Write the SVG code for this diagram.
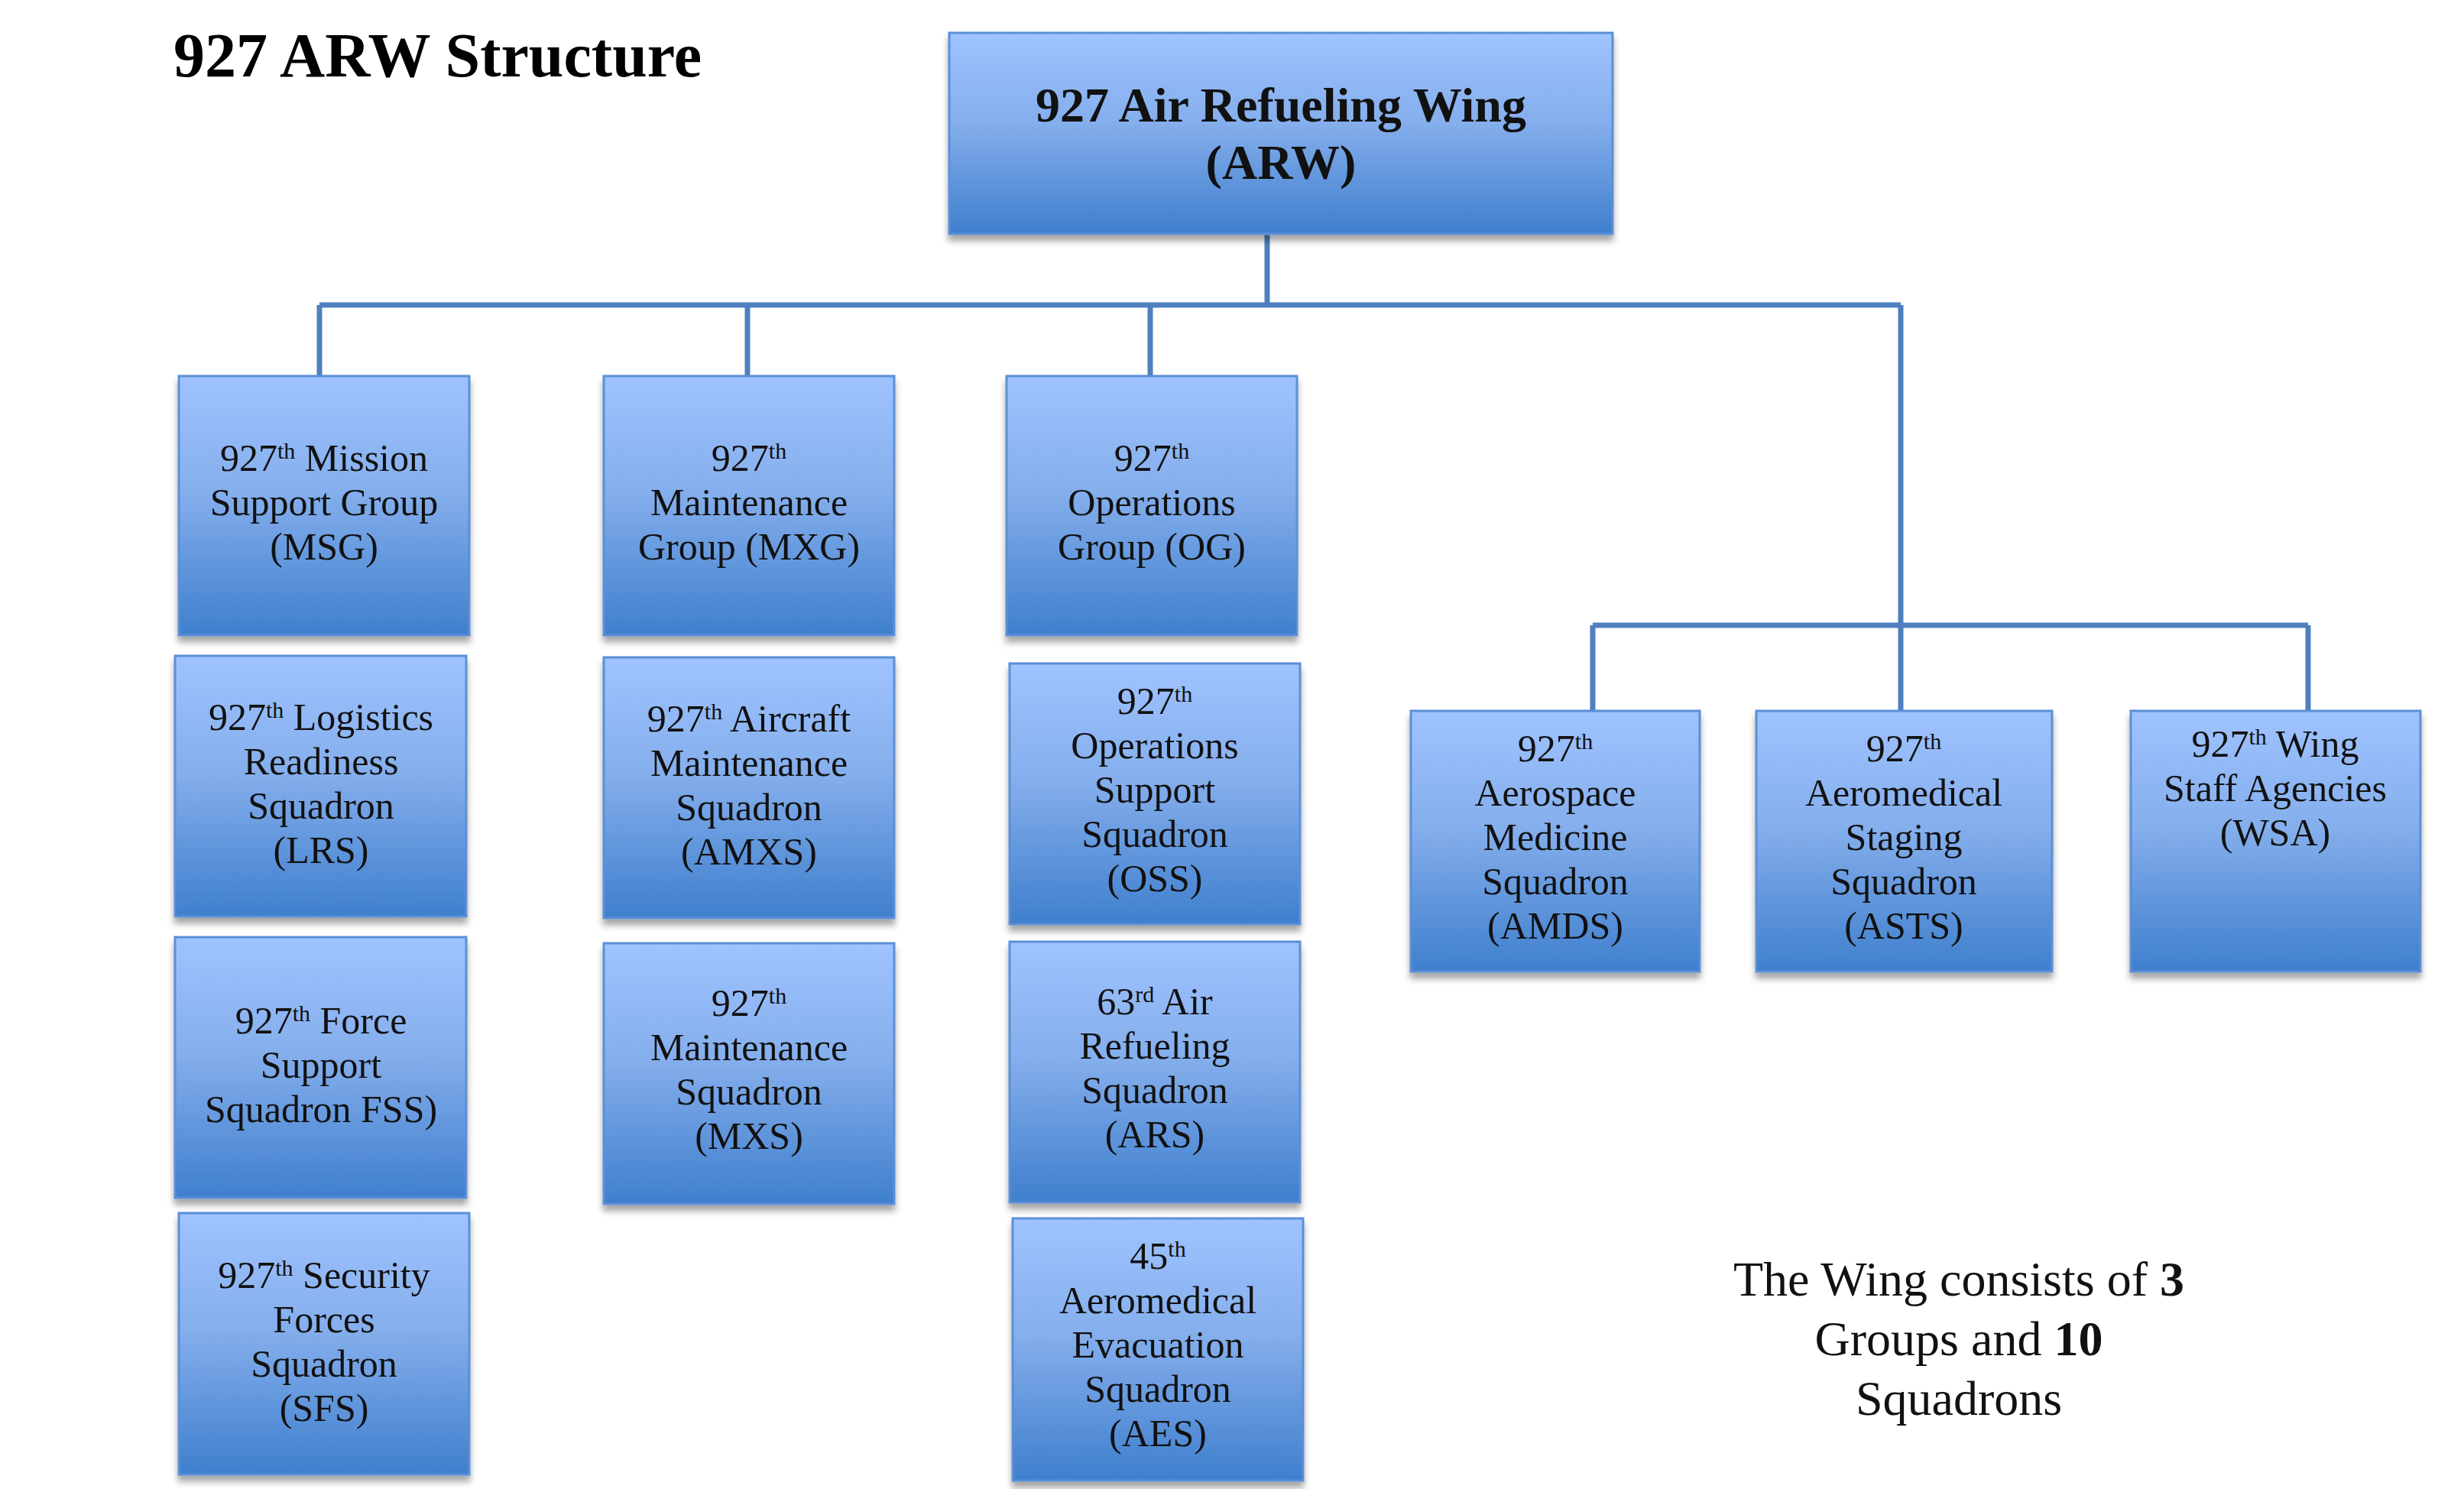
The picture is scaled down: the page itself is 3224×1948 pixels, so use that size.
<svg xmlns="http://www.w3.org/2000/svg" width="3224" height="1948" viewBox="0 0 3224 1948">
<defs>
<linearGradient id="g" x1="0" y1="0" x2="0" y2="1">
<stop offset="0" stop-color="#9fc3ff"/><stop offset="0.45" stop-color="#84aeec"/><stop offset="1" stop-color="#3f7fcd"/>
</linearGradient>
<filter id="sh" x="-5%" y="-5%" width="110%" height="115%"><feDropShadow dx="0" dy="8" stdDeviation="4" flood-color="#000" flood-opacity="0.35"/></filter>
</defs>
<style>
.b{fill:url(#g);stroke:#5b8fd6;stroke-width:3;filter:url(#sh)}
.t{font-family:"Liberation Serif",serif;font-size:50px;fill:#111;text-anchor:middle}
.s{font-size:30px;baseline-shift:super}
.c{fill:none;stroke:#4f7fbf;stroke-width:7}
</style>
<rect width="3224" height="1948" fill="#fff"/>
<text x="227" y="100" style="font-family:'Liberation Serif',serif;font-weight:bold;font-size:82px;fill:#000">927 ARW Structure</text>
<g id="connectors">
<path class="c" d="M1658 306V399M418 399H2487M418 399V492M978 399V492M1505 399V492M2487 399V930M2084 818H3020M2084 818V930M3020 818V930"/>
</g>
<g id="arw"><rect class="b" x="1242" y="43" width="868" height="263"/>
<text class="t" x="1676" y="159" style="font-weight:bold;font-size:64px">927 Air Refueling Wing</text>
<text class="t" x="1676" y="234" style="font-weight:bold;font-size:64px">(ARW)</text></g>
<g id="msg"><rect class="b" x="234" y="492" width="380" height="339"/>
<text class="t" x="424" y="616">927<tspan class="s">th</tspan> Mission<tspan x="424" dy="58">Support Group</tspan><tspan x="424" dy="58">(MSG)</tspan></text></g>
<g id="mxg"><rect class="b" x="790" y="492" width="380" height="339"/>
<text class="t" x="980" y="616">927<tspan class="s">th</tspan><tspan x="980" dy="58">Maintenance</tspan><tspan x="980" dy="58">Group (MXG)</tspan></text></g>
<g id="og"><rect class="b" x="1317" y="492" width="380" height="339"/>
<text class="t" x="1507" y="616">927<tspan class="s">th</tspan><tspan x="1507" dy="58">Operations</tspan><tspan x="1507" dy="58">Group (OG)</tspan></text></g>
<g id="lrs"><rect class="b" x="229" y="858" width="381" height="341"/>
<text class="t" x="420" y="955">927<tspan class="s">th</tspan> Logistics<tspan x="420" dy="58">Readiness</tspan><tspan x="420" dy="58">Squadron</tspan><tspan x="420" dy="58">(LRS)</tspan></text></g>
<g id="fss"><rect class="b" x="229" y="1226" width="381" height="341"/>
<text class="t" x="420" y="1352">927<tspan class="s">th</tspan> Force<tspan x="420" dy="58">Support</tspan><tspan x="420" dy="58">Squadron FSS)</tspan></text></g>
<g id="sfs"><rect class="b" x="234" y="1587" width="380" height="342"/>
<text class="t" x="424" y="1685">927<tspan class="s">th</tspan> Security<tspan x="424" dy="58">Forces</tspan><tspan x="424" dy="58">Squadron</tspan><tspan x="424" dy="58">(SFS)</tspan></text></g>
<g id="amxs"><rect class="b" x="790" y="860" width="380" height="341"/>
<text class="t" x="980" y="957">927<tspan class="s">th</tspan> Aircraft<tspan x="980" dy="58">Maintenance</tspan><tspan x="980" dy="58">Squadron</tspan><tspan x="980" dy="58">(AMXS)</tspan></text></g>
<g id="mxs"><rect class="b" x="790" y="1234" width="380" height="341"/>
<text class="t" x="980" y="1329">927<tspan class="s">th</tspan><tspan x="980" dy="58">Maintenance</tspan><tspan x="980" dy="58">Squadron</tspan><tspan x="980" dy="58">(MXS)</tspan></text></g>
<g id="oss"><rect class="b" x="1321" y="868" width="380" height="341"/>
<text class="t" x="1511" y="934">927<tspan class="s">th</tspan><tspan x="1511" dy="58">Operations</tspan><tspan x="1511" dy="58">Support</tspan><tspan x="1511" dy="58">Squadron</tspan><tspan x="1511" dy="58">(OSS)</tspan></text></g>
<g id="ars"><rect class="b" x="1321" y="1232" width="380" height="341"/>
<text class="t" x="1511" y="1327">63<tspan class="s">rd</tspan> Air<tspan x="1511" dy="58">Refueling</tspan><tspan x="1511" dy="58">Squadron</tspan><tspan x="1511" dy="58">(ARS)</tspan></text></g>
<g id="aes"><rect class="b" x="1325" y="1594" width="380" height="343"/>
<text class="t" x="1515" y="1660">45<tspan class="s">th</tspan><tspan x="1515" dy="58">Aeromedical</tspan><tspan x="1515" dy="58">Evacuation</tspan><tspan x="1515" dy="58">Squadron</tspan><tspan x="1515" dy="58">(AES)</tspan></text></g>
<g id="amds"><rect class="b" x="1846" y="930" width="378" height="341"/>
<text class="t" x="2035" y="996">927<tspan class="s">th</tspan><tspan x="2035" dy="58">Aerospace</tspan><tspan x="2035" dy="58">Medicine</tspan><tspan x="2035" dy="58">Squadron</tspan><tspan x="2035" dy="58">(AMDS)</tspan></text></g>
<g id="asts"><rect class="b" x="2298" y="930" width="387" height="341"/>
<text class="t" x="2491" y="996">927<tspan class="s">th</tspan><tspan x="2491" dy="58">Aeromedical</tspan><tspan x="2491" dy="58">Staging</tspan><tspan x="2491" dy="58">Squadron</tspan><tspan x="2491" dy="58">(ASTS)</tspan></text></g>
<g id="wsa"><rect class="b" x="2788" y="930" width="379" height="341"/>
<text class="t" x="2977" y="990">927<tspan class="s">th</tspan> Wing<tspan x="2977" dy="58">Staff Agencies</tspan><tspan x="2977" dy="58">(WSA)</tspan></text></g>
<g id="note">
<text class="t" x="2563" y="1695" style="font-size:64px">The Wing consists of <tspan font-weight="bold">3</tspan><tspan x="2563" dy="78">Groups and </tspan><tspan font-weight="bold">10</tspan><tspan x="2563" dy="78">Squadrons</tspan></text>
</g>
</svg>
